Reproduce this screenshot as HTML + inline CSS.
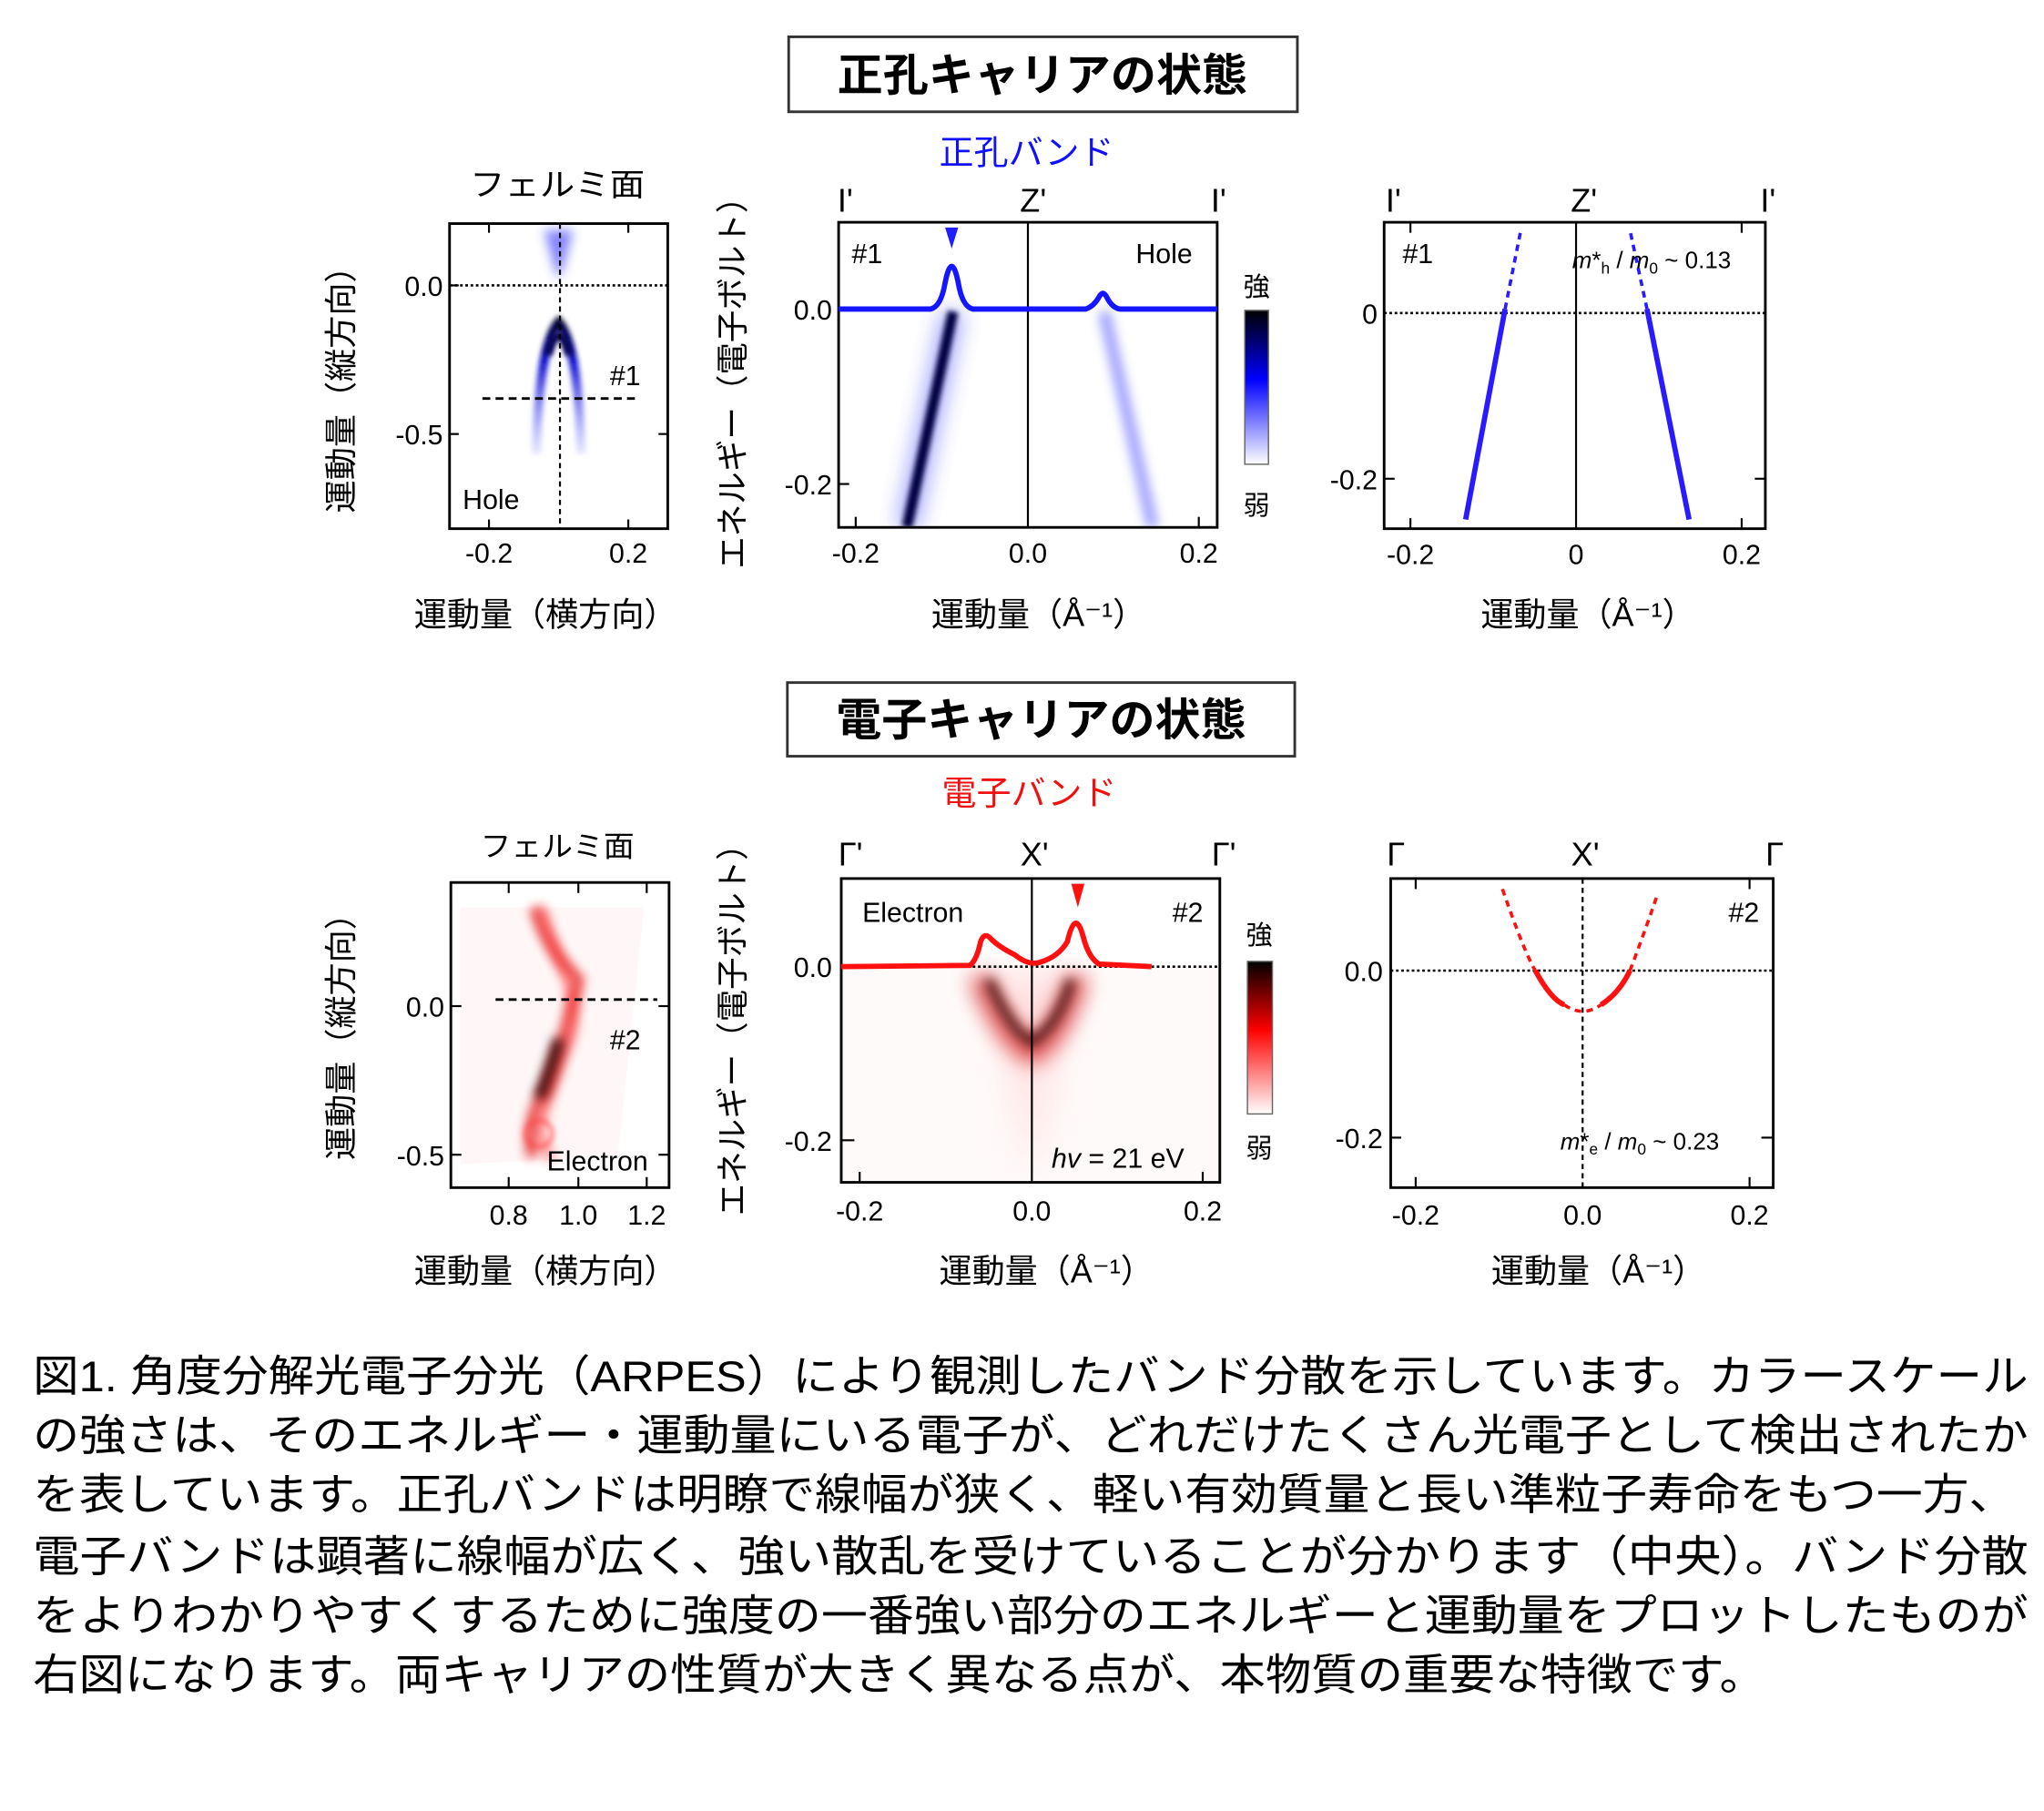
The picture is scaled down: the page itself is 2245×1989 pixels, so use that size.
<!DOCTYPE html>
<html><head><meta charset="utf-8"><style>
html,body{margin:0;padding:0;background:#fff;}
svg{display:block;}
text{font-family:"Liberation Sans","Noto Sans CJK JP",sans-serif;fill:#000;}
.t{font-size:21px;}
.g{font-size:25px;}
</style></head><body>
<svg width="2245" height="1989" viewBox="0 0 1555 1377" preserveAspectRatio="none" xmlns="http://www.w3.org/2000/svg">
<defs>
<filter id="b2" filterUnits="userSpaceOnUse" x="0" y="0" width="1555" height="1377"><feGaussianBlur stdDeviation="2"/></filter>
<filter id="b4" filterUnits="userSpaceOnUse" x="0" y="0" width="1555" height="1377"><feGaussianBlur stdDeviation="4"/></filter>
<filter id="b8" filterUnits="userSpaceOnUse" x="0" y="0" width="1555" height="1377"><feGaussianBlur stdDeviation="8"/></filter>
<filter id="b15" filterUnits="userSpaceOnUse" x="0" y="0" width="1555" height="1377"><feGaussianBlur stdDeviation="15"/></filter>
<linearGradient id="cbB" x1="0" y1="0" x2="0" y2="1"><stop offset="0" stop-color="#000"/><stop offset="0.45" stop-color="#00f"/><stop offset="1" stop-color="#fff"/></linearGradient>
<linearGradient id="cbR" x1="0" y1="0" x2="0" y2="1"><stop offset="0" stop-color="#000"/><stop offset="0.45" stop-color="#f00"/><stop offset="1" stop-color="#fff"/></linearGradient>
<linearGradient id="fadeB" x1="0" y1="0" x2="0" y2="1"><stop offset="0" stop-color="#000030"/><stop offset="0.3" stop-color="#1010d0"/><stop offset="1" stop-color="#8080ff" stop-opacity="0.2"/></linearGradient>
<clipPath id="cA"><rect x="342" y="170" width="166" height="232"/></clipPath>
<clipPath id="cB"><rect x="638" y="169" width="288" height="232"/></clipPath>
<clipPath id="cD"><rect x="343" y="671" width="166" height="232"/></clipPath>
<clipPath id="cE"><rect x="640" y="668" width="288" height="231"/></clipPath>
</defs>

<rect x="600" y="28" width="387" height="57" fill="#fff" stroke="#333" stroke-width="2"/>
<text x="793" y="69" text-anchor="middle" font-size="34" font-weight="bold" textLength="312" lengthAdjust="spacingAndGlyphs">正孔キャリアの状態</text>
<text x="781" y="125" text-anchor="middle" font-size="26" style="fill:#1010ff" textLength="133" lengthAdjust="spacingAndGlyphs">正孔バンド</text>

<rect x="599" y="519" width="386" height="56" fill="#fff" stroke="#333" stroke-width="2"/>
<text x="792" y="559" text-anchor="middle" font-size="34" font-weight="bold" textLength="312" lengthAdjust="spacingAndGlyphs">電子キャリアの状態</text>
<text x="783" y="612" text-anchor="middle" font-size="26" style="fill:#f01010" textLength="133" lengthAdjust="spacingAndGlyphs">電子バンド</text>

<!-- Panel A -->
<text x="424" y="149" text-anchor="middle" font-size="24" textLength="133" lengthAdjust="spacingAndGlyphs">フェルミ面</text>
<g clip-path="url(#cA)">
<path d="M414 175 L436 175 L428 205 L424 212 Z" fill="#3030ff" opacity="0.6" filter="url(#b4)"/>
<path d="M408 345 Q410 262 425 245 Q440 262 442 345" fill="none" stroke="url(#fadeB)" stroke-width="7" filter="url(#b2)"/>
<path d="M417 270 Q425 240 433 270" fill="none" stroke="#000050" stroke-width="6" filter="url(#b2)"/>
</g>
<rect x="342" y="170" width="166" height="232" fill="none" stroke="#000" stroke-width="2"/>
<line x1="342" y1="217" x2="508" y2="217" stroke="#000" stroke-width="1.8" stroke-dasharray="2,2"/>
<line x1="426" y1="170" x2="426" y2="402" stroke="#000" stroke-width="1.5" stroke-dasharray="4,3"/>
<line x1="367" y1="303" x2="485" y2="303" stroke="#000" stroke-width="2" stroke-dasharray="6,4"/>
<g stroke="#000" stroke-width="1.5">
<line x1="372" y1="170" x2="372" y2="177"/><line x1="478" y1="170" x2="478" y2="177"/>
<line x1="372" y1="402" x2="372" y2="395"/><line x1="478" y1="402" x2="478" y2="395"/>
<line x1="342" y1="217" x2="349" y2="217"/><line x1="342" y1="330" x2="349" y2="330"/>
<line x1="508" y1="330" x2="501" y2="330"/>
</g>
<text class="t" x="337" y="225" text-anchor="end">0.0</text>
<text class="t" x="337" y="338" text-anchor="end">-0.5</text>
<text class="t" x="372" y="428" text-anchor="middle">-0.2</text>
<text class="t" x="478" y="428" text-anchor="middle">0.2</text>
<text class="t" x="464" y="293">#1</text>
<text class="t" x="352" y="387">Hole</text>
<text x="415" y="476" text-anchor="middle" font-size="25" textLength="200" lengthAdjust="spacingAndGlyphs">運動量（横方向）</text>
<text transform="translate(268,290) rotate(-90)" text-anchor="middle" font-size="25" textLength="200" lengthAdjust="spacingAndGlyphs">運動量（縦方向）</text>

<!-- Panel B -->
<text transform="translate(566,285) rotate(-90)" text-anchor="middle" font-size="25" textLength="295" lengthAdjust="spacingAndGlyphs">エネルギー（電子ボルト）</text>
<g clip-path="url(#cB)">
<line x1="840" y1="237" x2="877" y2="401" stroke="#5050ff" stroke-width="9" opacity="0.55" filter="url(#b4)"/>
<line x1="725" y1="237" x2="690" y2="401" stroke="#3030ff" stroke-width="16" opacity="0.45" filter="url(#b8)"/>
<line x1="725" y1="237" x2="690" y2="401" stroke="#000040" stroke-width="8" filter="url(#b2)"/>
</g>
<rect x="638" y="169" width="288" height="232" fill="none" stroke="#000" stroke-width="2"/>
<line x1="782" y1="169" x2="782" y2="401" stroke="#000" stroke-width="1.5"/>
<path d="M638 235 L708 235 Q716 233 719 215 Q724 190 729 215 Q732 233 740 235 L826 235 Q832 233 836 226 Q839 220 842 226 Q846 234 852 235 L926 235" fill="none" stroke="#1515ff" stroke-width="4"/>
<path d="M719 173 L729 173 L724 189 Z" fill="#2020ff"/>
<g stroke="#000" stroke-width="1.5">
<line x1="651" y1="401" x2="651" y2="393"/><line x1="912" y1="401" x2="912" y2="393"/>
<line x1="638" y1="368" x2="646" y2="368"/>
</g>
<text class="t" x="633" y="243" text-anchor="end">0.0</text>
<text class="t" x="633" y="376" text-anchor="end">-0.2</text>
<text class="t" x="651" y="428" text-anchor="middle">-0.2</text>
<text class="t" x="782" y="428" text-anchor="middle">0.0</text>
<text class="t" x="912" y="428" text-anchor="middle">0.2</text>
<text class="g" x="643" y="161" text-anchor="middle">I'</text>
<text class="g" x="786" y="161" text-anchor="middle">Z'</text>
<text class="g" x="927" y="161" text-anchor="middle">I'</text>
<text class="t" x="648" y="200">#1</text>
<text class="t" x="864" y="200">Hole</text>
<rect x="947" y="236" width="18" height="117" fill="url(#cbB)" stroke="#666" stroke-width="1"/>
<text x="956" y="225" text-anchor="middle" font-size="20">強</text>
<text x="956" y="391" text-anchor="middle" font-size="20">弱</text>
<text x="790" y="476" text-anchor="middle" font-size="25" textLength="163" lengthAdjust="spacingAndGlyphs">運動量（Å⁻¹）</text>

<!-- Panel C -->
<rect x="1053" y="169" width="290" height="233" fill="none" stroke="#000" stroke-width="2"/>
<line x1="1199" y1="169" x2="1199" y2="402" stroke="#000" stroke-width="1.5"/>
<line x1="1053" y1="238" x2="1343" y2="238" stroke="#000" stroke-width="1.8" stroke-dasharray="2,2"/>
<line x1="1115" y1="395" x2="1145" y2="235" stroke="#2a1aff" stroke-width="4"/>
<line x1="1145" y1="235" x2="1157" y2="175" stroke="#2a1aff" stroke-width="2.5" stroke-dasharray="5,4"/>
<line x1="1285" y1="395" x2="1253" y2="235" stroke="#2a1aff" stroke-width="4"/>
<line x1="1253" y1="235" x2="1240" y2="175" stroke="#2a1aff" stroke-width="2.5" stroke-dasharray="5,4"/>
<g stroke="#000" stroke-width="1.5">
<line x1="1073" y1="169" x2="1073" y2="177"/><line x1="1325" y1="169" x2="1325" y2="177"/>
<line x1="1073" y1="402" x2="1073" y2="394"/><line x1="1325" y1="402" x2="1325" y2="394"/>
<line x1="1053" y1="364" x2="1061" y2="364"/><line x1="1343" y1="364" x2="1335" y2="364"/>
</g>
<text class="t" x="1048" y="246" text-anchor="end">0</text>
<text class="t" x="1048" y="372" text-anchor="end">-0.2</text>
<text class="t" x="1073" y="429" text-anchor="middle">-0.2</text>
<text class="t" x="1199" y="429" text-anchor="middle">0</text>
<text class="t" x="1325" y="429" text-anchor="middle">0.2</text>
<text class="g" x="1060" y="161" text-anchor="middle">I'</text>
<text class="g" x="1205" y="161" text-anchor="middle">Z'</text>
<text class="g" x="1345" y="161" text-anchor="middle">I'</text>
<text class="t" x="1067" y="200">#1</text>
<text x="1196" y="204" font-size="18"><tspan font-style="italic">m</tspan>*<tspan font-size="12" dy="4">h</tspan><tspan dy="-4"> / </tspan><tspan font-style="italic">m</tspan><tspan font-size="12" dy="4">0</tspan><tspan dy="-4"> ~ 0.13</tspan></text>
<text x="1208" y="476" text-anchor="middle" font-size="25" textLength="163" lengthAdjust="spacingAndGlyphs">運動量（Å⁻¹）</text>

<!-- Panel D -->
<text x="424" y="651" text-anchor="middle" font-size="22" textLength="117" lengthAdjust="spacingAndGlyphs">フェルミ面</text>
<g clip-path="url(#cD)">
<path d="M350 690 L490 690 L470 880 L350 885 Z" fill="#fff7f7"/>
<path d="M407 690 Q415 720 440 745 Q430 790 415 830 Q400 850 405 880" fill="none" stroke="#e00000" stroke-width="9" opacity="0.7" filter="url(#b4)"/>
<path d="M412 690 Q420 715 425 730 Q445 770 430 800 Q418 830 410 860 Q415 875 420 882" fill="none" stroke="#ff2020" stroke-width="7" opacity="0.5" filter="url(#b4)"/>
<path d="M425 790 Q420 810 410 835" fill="none" stroke="#300000" stroke-width="8" filter="url(#b4)"/>
<circle cx="410" cy="862" r="10" fill="none" stroke="#ff4040" stroke-width="4" opacity="0.5" filter="url(#b2)"/>
</g>
<rect x="343" y="671" width="166" height="232" fill="none" stroke="#000" stroke-width="2"/>
<line x1="377" y1="760" x2="500" y2="760" stroke="#000" stroke-width="2" stroke-dasharray="6,4"/>
<g stroke="#000" stroke-width="1.5">
<line x1="387" y1="903" x2="387" y2="895"/><line x1="440" y1="903" x2="440" y2="895"/><line x1="492" y1="903" x2="492" y2="895"/>
<line x1="387" y1="671" x2="387" y2="679"/><line x1="440" y1="671" x2="440" y2="679"/><line x1="492" y1="671" x2="492" y2="679"/>
<line x1="343" y1="765" x2="351" y2="765"/><line x1="343" y1="878" x2="351" y2="878"/>
<line x1="509" y1="765" x2="501" y2="765"/><line x1="509" y1="878" x2="501" y2="878"/>
</g>
<text class="t" x="338" y="773" text-anchor="end">0.0</text>
<text class="t" x="338" y="886" text-anchor="end">-0.5</text>
<text class="t" x="387" y="931" text-anchor="middle">0.8</text>
<text class="t" x="440" y="931" text-anchor="middle">1.0</text>
<text class="t" x="492" y="931" text-anchor="middle">1.2</text>
<text class="t" x="464" y="798">#2</text>
<text class="t" x="416" y="890">Electron</text>
<text x="415" y="975" text-anchor="middle" font-size="25" textLength="200" lengthAdjust="spacingAndGlyphs">運動量（横方向）</text>
<text transform="translate(268,782) rotate(-90)" text-anchor="middle" font-size="25" textLength="200" lengthAdjust="spacingAndGlyphs">運動量（縦方向）</text>

<!-- Panel E -->
<text transform="translate(566,777) rotate(-90)" text-anchor="middle" font-size="25" textLength="295" lengthAdjust="spacingAndGlyphs">エネルギー（電子ボルト）</text>
<g clip-path="url(#cE)">
<rect x="640" y="735" width="288" height="164" fill="#fffafa"/>
<path d="M755 740 L815 740 L785 900 Z" fill="#ff9090" opacity="0.25" filter="url(#b15)"/>
<path d="M745 742 Q765 790 785 800 Q805 790 820 742" fill="none" stroke="#d00000" stroke-width="16" opacity="0.7" filter="url(#b8)"/>
<path d="M752 745 Q770 785 785 792 Q805 780 815 745" fill="none" stroke="#300000" stroke-width="8" opacity="0.75" filter="url(#b4)"/>
</g>
<rect x="640" y="668" width="288" height="231" fill="none" stroke="#000" stroke-width="2"/>
<line x1="785" y1="668" x2="785" y2="899" stroke="#000" stroke-width="1.5"/>
<line x1="740" y1="735" x2="928" y2="735" stroke="#000" stroke-width="1.8" stroke-dasharray="2,2"/>
<path d="M640 735 L738 734 Q743 730 746 716 Q749 708 754 714 Q760 720 772 726 Q782 734 790 732 Q805 728 812 716 Q818 690 824 712 Q828 728 836 733 L876 735" fill="none" stroke="#ff1010" stroke-width="4"/>
<path d="M815 672 L825 672 L820 690 Z" fill="#ff1010"/>
<g stroke="#000" stroke-width="1.5">
<line x1="654" y1="899" x2="654" y2="891"/><line x1="915" y1="899" x2="915" y2="891"/>
<line x1="640" y1="867" x2="650" y2="867"/>
</g>
<text class="t" x="633" y="743" text-anchor="end">0.0</text>
<text class="t" x="633" y="875" text-anchor="end">-0.2</text>
<text class="t" x="654" y="928" text-anchor="middle">-0.2</text>
<text class="t" x="785" y="928" text-anchor="middle">0.0</text>
<text class="t" x="915" y="928" text-anchor="middle">0.2</text>
<text class="g" x="647" y="658" text-anchor="middle">Γ'</text>
<text class="g" x="787" y="658" text-anchor="middle">X'</text>
<text class="g" x="931" y="658" text-anchor="middle">Γ'</text>
<text class="t" x="656" y="701">Electron</text>
<text class="t" x="892" y="701">#2</text>
<text class="t" x="800" y="888"><tspan font-style="italic">hv</tspan> = 21 eV</text>
<rect x="949" y="731" width="19" height="116" fill="url(#cbR)" stroke="#666" stroke-width="1"/>
<text x="958" y="718" text-anchor="middle" font-size="20">強</text>
<text x="958" y="880" text-anchor="middle" font-size="20">弱</text>
<text x="796" y="975" text-anchor="middle" font-size="25" textLength="163" lengthAdjust="spacingAndGlyphs">運動量（Å⁻¹）</text>

<!-- Panel F -->
<rect x="1058" y="668" width="291" height="235" fill="none" stroke="#000" stroke-width="2"/>
<line x1="1204" y1="668" x2="1204" y2="903" stroke="#000" stroke-width="1.5" stroke-dasharray="4,3"/>
<line x1="1058" y1="738" x2="1349" y2="738" stroke="#000" stroke-width="1.8" stroke-dasharray="2,2"/>
<path d="M1143 676 Q1160 725 1168 738" fill="none" stroke="#ff1010" stroke-width="2.5" stroke-dasharray="5,4"/>
<path d="M1168 738 Q1180 760 1190 764" fill="none" stroke="#ff1010" stroke-width="4"/>
<path d="M1190 764 Q1204 774 1218 764" fill="none" stroke="#ff1010" stroke-width="2.5" stroke-dasharray="5,4"/>
<path d="M1218 764 Q1232 755 1240 738" fill="none" stroke="#ff1010" stroke-width="4"/>
<path d="M1240 738 Q1250 712 1261 680" fill="none" stroke="#ff1010" stroke-width="2.5" stroke-dasharray="5,4"/>
<g stroke="#000" stroke-width="1.5">
<line x1="1077" y1="903" x2="1077" y2="895"/><line x1="1331" y1="903" x2="1331" y2="895"/>
<line x1="1077" y1="668" x2="1077" y2="676"/><line x1="1331" y1="668" x2="1331" y2="676"/>
<line x1="1058" y1="865" x2="1066" y2="865"/><line x1="1349" y1="865" x2="1340" y2="865"/>
</g>
<text class="t" x="1052" y="746" text-anchor="end">0.0</text>
<text class="t" x="1052" y="873" text-anchor="end">-0.2</text>
<text class="t" x="1077" y="931" text-anchor="middle">-0.2</text>
<text class="t" x="1204" y="931" text-anchor="middle">0.0</text>
<text class="t" x="1331" y="931" text-anchor="middle">0.2</text>
<text class="g" x="1062" y="658" text-anchor="middle">Γ</text>
<text class="g" x="1206" y="658" text-anchor="middle">X'</text>
<text class="g" x="1350" y="658" text-anchor="middle">Γ</text>
<text class="t" x="1315" y="701">#2</text>
<text x="1187" y="874" font-size="18"><tspan font-style="italic">m</tspan>*<tspan font-size="12" dy="4">e</tspan><tspan dy="-4"> / </tspan><tspan font-style="italic">m</tspan><tspan font-size="12" dy="4">0</tspan><tspan dy="-4"> ~ 0.23</tspan></text>
<text x="1216" y="975" text-anchor="middle" font-size="25" textLength="163" lengthAdjust="spacingAndGlyphs">運動量（Å⁻¹）</text>

<!-- Caption -->
<g font-size="33">
<text x="25" y="1058" textLength="1518" lengthAdjust="spacingAndGlyphs">図1. 角度分解光電子分光（ARPES）により観測したバンド分散を示しています。カラースケール</text>
<text x="25" y="1103" textLength="1518" lengthAdjust="spacingAndGlyphs">の強さは、そのエネルギー・運動量にいる電子が、どれだけたくさん光電子として検出されたか</text>
<text x="25" y="1148" textLength="1508" lengthAdjust="spacingAndGlyphs">を表しています。正孔バンドは明瞭で線幅が狭く、軽い有効質量と長い準粒子寿命をもつ一方、</text>
<text x="25" y="1195" textLength="1518" lengthAdjust="spacingAndGlyphs">電子バンドは顕著に線幅が広く、強い散乱を受けていることが分かります（中央）。バンド分散</text>
<text x="25" y="1240" textLength="1518" lengthAdjust="spacingAndGlyphs">をよりわかりやすくするために強度の一番強い部分のエネルギーと運動量をプロットしたものが</text>
<text x="25" y="1285" textLength="1318" lengthAdjust="spacingAndGlyphs">右図になります。両キャリアの性質が大きく異なる点が、本物質の重要な特徴です。</text>
</g>
</svg>
</body></html>
